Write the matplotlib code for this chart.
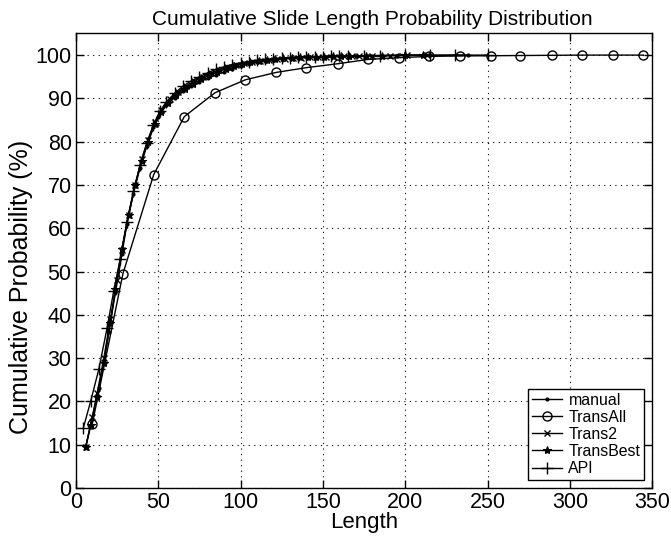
import matplotlib
matplotlib.use("Agg")
import matplotlib.pyplot as plt

plt.rcParams['font.family'] = ['Liberation Sans', 'DejaVu Sans']

# series (length, cumulative %)
manual_x = [6, 10, 14, 17, 20, 24, 28, 31, 35, 39, 43, 47, 50, 55, 60, 65, 70, 75, 80, 85, 90,
            95, 100, 105, 110, 115, 120, 125, 130, 135, 140, 145, 150, 155, 160, 170, 180, 195, 215, 238]
manual_y = [9.4, 16, 23, 29, 36, 45, 54, 61, 68, 74, 79, 83.5, 85.8, 88.5, 90.2, 91.6, 92.8, 93.8, 94.6,
            95.4, 96.1, 96.8, 97.4, 97.9, 98.3, 98.6, 98.9, 99.1, 99.3, 99.4, 99.5, 99.6, 99.65, 99.7,
            99.75, 99.8, 99.85, 99.9, 99.95, 100]

transall_x = [10, 28.6, 47.3, 65.9, 84.5, 103, 121.7, 140, 159, 177.5, 196, 214.6, 233, 252,
              270, 289, 307.5, 326, 344.6]
transall_y = [14.8, 49.5, 72.4, 85.8, 91.3, 94.3, 96.0, 97.1, 98.0, 99.0, 99.4, 99.7, 99.8, 99.85,
              99.9, 99.95, 100, 100, 100]

trans2_x = [6, 10, 13, 17, 21, 25, 28, 32, 36, 40, 44, 48, 52, 57, 62, 67, 72, 77, 82, 87, 92, 97,
            102, 107, 112, 117, 122, 127, 132, 137, 142, 147, 152, 157, 163, 168, 172, 180, 191, 201, 213]
trans2_y = [9.5, 16.5, 22, 30, 39, 48, 55, 63, 70, 76, 80.5, 84.5, 87.4, 89.8, 91.5, 92.8, 94.0, 95.0,
            95.8, 96.6, 97.2, 97.7, 98.1, 98.4, 98.7, 98.9, 99.1, 99.2, 99.3, 99.4, 99.5, 99.55, 99.6,
            99.65, 99.7, 99.75, 99.8, 99.85, 99.9, 99.95, 100]

transbest_x = [6, 9, 13, 17, 21, 24, 28, 32, 36, 40, 44, 48, 52, 56, 61, 66, 71, 76, 81, 86, 91, 96,
               101, 106, 111, 116, 121, 126, 131, 136, 141, 146, 151, 156, 161, 166, 176, 186, 200, 211]
transbest_y = [9.5, 14.5, 21, 28.8, 38, 46, 55.3, 63, 70, 75.5, 80, 84, 86.8, 89, 90.8, 92.2, 93.4, 94.4,
               95.3, 96.1, 96.8, 97.4, 97.9, 98.3, 98.6, 98.9, 99.1, 99.25, 99.35, 99.45, 99.5, 99.6, 99.65,
               99.7, 99.75, 99.8, 99.85, 99.9, 99.95, 100]

api_x = [4.5, 9, 14, 19, 23, 27, 31, 35, 39, 43, 47, 51, 55, 60, 65, 70, 75, 80, 85, 90, 95, 100,
         105, 110, 115, 120, 125, 130, 135, 140, 145, 150, 155, 160, 165, 175, 185, 200, 215, 230, 250]
api_y = [13.8, 20, 27.5, 37, 45.5, 53, 61.5, 68.5, 74.6, 79.6, 83.8, 87, 89.2, 91.2, 92.8, 94.0, 95.0,
         95.9, 96.7, 97.3, 97.8, 98.2, 98.5, 98.8, 99.0, 99.2, 99.3, 99.4, 99.5, 99.55, 99.6, 99.65,
         99.7, 99.75, 99.8, 99.85, 99.9, 99.95, 99.97, 100, 100]

xticks = [0, 50, 100, 150, 200, 250, 300, 350]
yticks = list(range(0, 101, 10))

fig = plt.figure(figsize=(6.71, 5.36), dpi=100)
ax = fig.add_axes([0.113, 0.0896, 0.859, 0.848])

ax.plot(manual_x, manual_y, '-', color='k', lw=1, marker='.', ms=4, label='manual')
ax.plot(transall_x, transall_y, '-', color='k', lw=1, marker='o', ms=6.5, mfc='none', mew=1, label='TransAll')
ax.plot(trans2_x, trans2_y, '-', color='k', lw=1, marker='x', ms=5, mew=1, label='Trans2')
ax.plot(transbest_x, transbest_y, '-', color='k', lw=1, marker='*', ms=6, mew=0.8, label='TransBest')
ax.plot(api_x, api_y, '-', color='k', lw=1, marker='+', ms=9, mew=1, label='API')

ax.set_xlim(0, 350)
ax.set_ylim(0, 105)
ax.set_xticks(xticks)
ax.set_yticks(yticks)
ax.grid(True, color='k', linestyle=(0, (1, 4)), linewidth=0.8)
ax.tick_params(direction='in', top=True, right=True, labelsize=15.5, length=6, width=1, pad=3)
for s in ax.spines.values():
    s.set_linewidth(1)

ax.set_xlabel('Length', fontsize=16, labelpad=-1)
ax.set_ylabel('Cumulative Probability (%)', fontsize=18)
ax.yaxis.set_label_coords(-0.074, 0.442)
ax.set_title('Cumulative Slide Length Probability Distribution', fontsize=15, pad=6, x=0.514)

leg = ax.legend(loc='lower right', fontsize=11.4, fancybox=False, framealpha=1, edgecolor='k',
                borderpad=0.25, labelspacing=0.13, handlelength=1.9, handletextpad=0.4,
                borderaxespad=0.5)
leg.get_frame().set_linewidth(1)

fig.savefig('out.png', dpi=100)
